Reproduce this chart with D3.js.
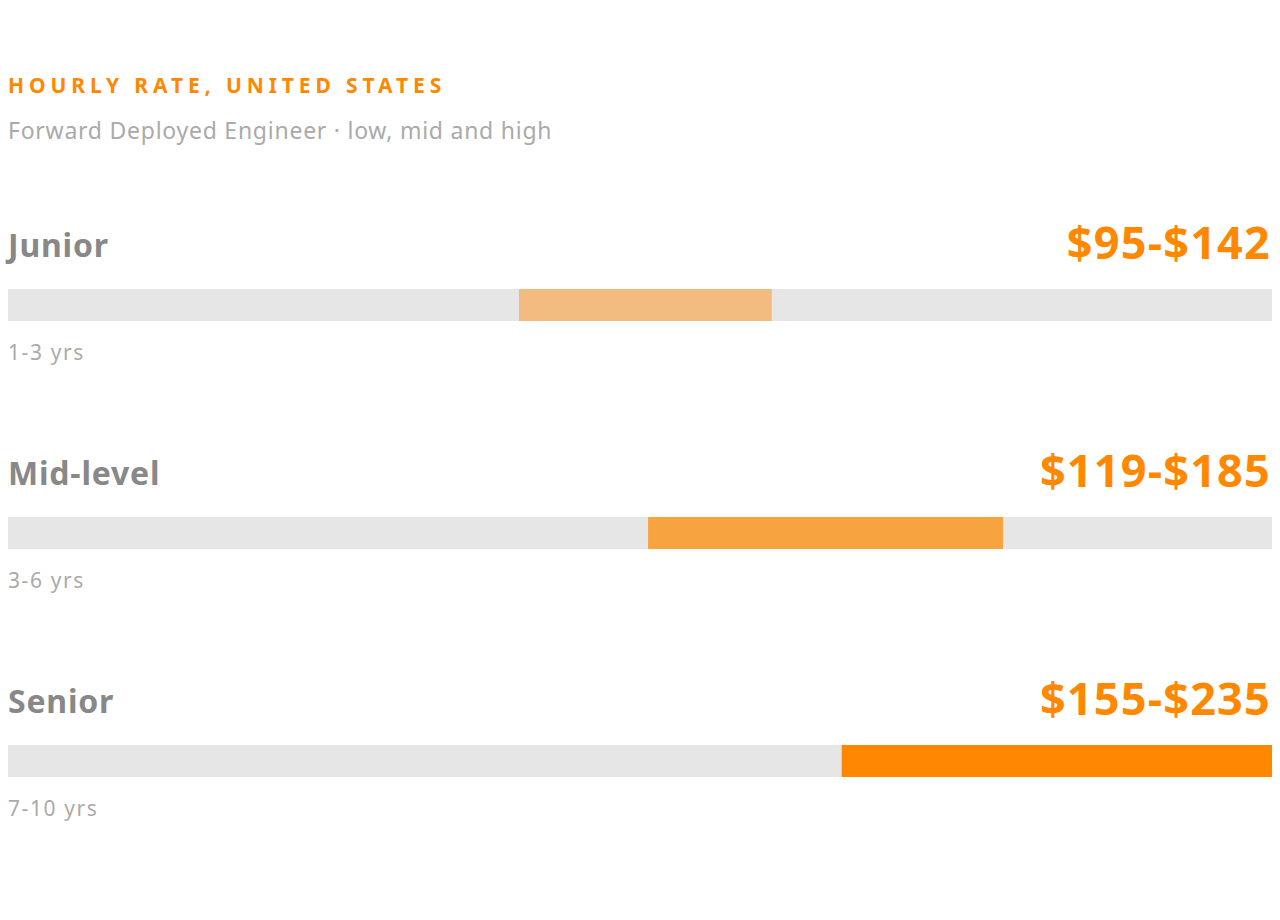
<!DOCTYPE html>
<html><head><meta charset="utf-8">
<script src="https://cdn.jsdelivr.net/npm/d3@7"></script>
<style>body{margin:0;background:#fff}</style></head>
<body><svg id="c" width="1280" height="920"></svg>
<script>
const levels = ["Junior", "Mid-level", "Senior"];
const years = ["1-3 yrs", "3-6 yrs", "7-10 yrs"];
const low = [95, 119, 155];
const high = [142, 185, 235];
const colors = ["#f2bc80", "#f7a33f", "#ff8800"];
const svg = d3.select("#c");
const font = "'Noto Sans', 'Open Sans', sans-serif";
const x = d3.scaleLinear().domain([0, 235]).range([8, 1272]);
svg.append("text").attr("x", 8).attr("y", 93).attr("font-family", font).attr("font-size", 21)
  .attr("font-weight", "bold").attr("letter-spacing", 4.9).attr("fill", "#ff8800").text("HOURLY RATE, UNITED STATES");
svg.append("text").attr("x", 8).attr("y", 139).attr("font-family", font).attr("font-size", 23)
  .attr("letter-spacing", 0.75).attr("fill", "#aaaaaa").text("Forward Deployed Engineer · low, mid and high");
levels.forEach((l, i) => {
  const y0 = 289 + i * 228;
  const g = svg.append("g");
  g.append("text").attr("x", 8).attr("y", y0 - 32).attr("font-family", font).attr("font-size", 32)
    .attr("letter-spacing", 0.8).attr("font-weight", "bold").attr("fill", "#888888").text(l);
  g.append("text").attr("x", 1271).attr("y", y0 - 30).attr("text-anchor", "end").attr("font-family", font)
    .attr("font-size", 45).attr("letter-spacing", 1.2).attr("font-weight", "bold").attr("fill", "#ff8800").text(`$${low[i]}-$${high[i]}`);
  g.append("rect").attr("x", x(0)).attr("y", y0).attr("width", x(235) - x(0)).attr("height", 32).attr("fill", "#e6e6e6");
  g.append("rect").attr("x", x(low[i])).attr("y", y0).attr("width", x(high[i]) - x(low[i])).attr("height", 32).attr("fill", colors[i]);
  g.append("text").attr("x", 8).attr("y", y0 + 71).attr("font-family", font).attr("font-size", 21)
    .attr("letter-spacing", 1.6).attr("fill", "#aaaaaa").text(years[i]);
});
</script></body></html>
